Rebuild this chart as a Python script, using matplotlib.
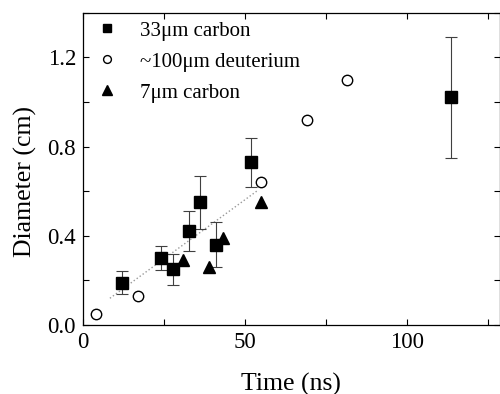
import matplotlib
matplotlib.use("Agg")
import matplotlib.pyplot as plt
from matplotlib.ticker import MultipleLocator, FixedLocator

plt.rcParams['font.family'] = ['Liberation Serif', 'DejaVu Serif']
plt.rcParams['mathtext.fontset'] = 'stix'

# 33um carbon (squares, with error bars)
c33_time = [11.9, 24.2, 27.7, 32.8, 36.0, 41.1, 51.7, 113.6]
c33_diam = [0.19, 0.30, 0.25, 0.42, 0.55, 0.36, 0.73, 1.02]
c33_err = [0.05, 0.055, 0.07, 0.09, 0.12, 0.10, 0.11, 0.27]

# ~100um deuterium (open circles)
d_time = [3.9, 16.9, 54.8, 69.2, 81.4]
d_diam = [0.05, 0.13, 0.64, 0.92, 1.10]

# 7um carbon (triangles)
c7_time = [31.0, 39.0, 43.1, 54.9]
c7_diam = [0.29, 0.26, 0.39, 0.55]

# dotted guide line
fit_time = [8.3, 53.6]
fit_diam = [0.12, 0.60]

fig = plt.figure(figsize=(5.0, 3.94), dpi=100)
ax = fig.add_axes([0.166, 0.175, 0.833, 0.793])

ax.plot(fit_time, fit_diam, linestyle=':', color='0.6', lw=1.0, zorder=1)

ax.errorbar(c33_time, c33_diam, yerr=c33_err, fmt='none', ecolor='0.25',
            elinewidth=0.8, capsize=4, capthick=0.8, zorder=2)
ax.plot(c33_time, c33_diam, 's', color='black', markersize=8.5,
        linestyle='none', label='33μm carbon', zorder=3)
ax.plot(d_time, d_diam, 'o', markerfacecolor='white', markeredgecolor='black',
        markeredgewidth=1.0, markersize=7.5, linestyle='none',
        label='~100μm deuterium', zorder=3)
ax.plot(c7_time, c7_diam, '^', color='black', markersize=9,
        linestyle='none', label='7μm carbon', zorder=3)

ax.set_xlim(0, 128.5)
ax.set_ylim(0, 1.4)
ax.xaxis.set_major_locator(FixedLocator([0, 50, 100]))
ax.xaxis.set_minor_locator(MultipleLocator(25))
ax.yaxis.set_major_locator(FixedLocator([0.0, 0.4, 0.8, 1.2]))
ax.yaxis.set_minor_locator(MultipleLocator(0.2))
ax.set_yticklabels(['0.0', '0.4', '0.8', '1.2'])
ax.tick_params(which='both', direction='in', top=True, right=True,
               length=4, width=0.8, labelsize=16.5, pad=5)

for s in ax.spines.values():
    s.set_linewidth(0.9)

ax.set_xlabel('Time (ns)', fontsize=18.5, labelpad=14)
ax.set_ylabel('Diameter (cm)', fontsize=18.5)
ax.yaxis.set_label_coords(-0.11, 0.46)

leg = ax.legend(loc='upper left', bbox_to_anchor=(0.013, 1.0), frameon=False,
                fontsize=15, handlelength=1.0, handletextpad=1.1,
                labelspacing=0.55, borderaxespad=0.05, borderpad=0.35,
                markerscale=0.75)

fig.savefig('out.png', dpi=100)
